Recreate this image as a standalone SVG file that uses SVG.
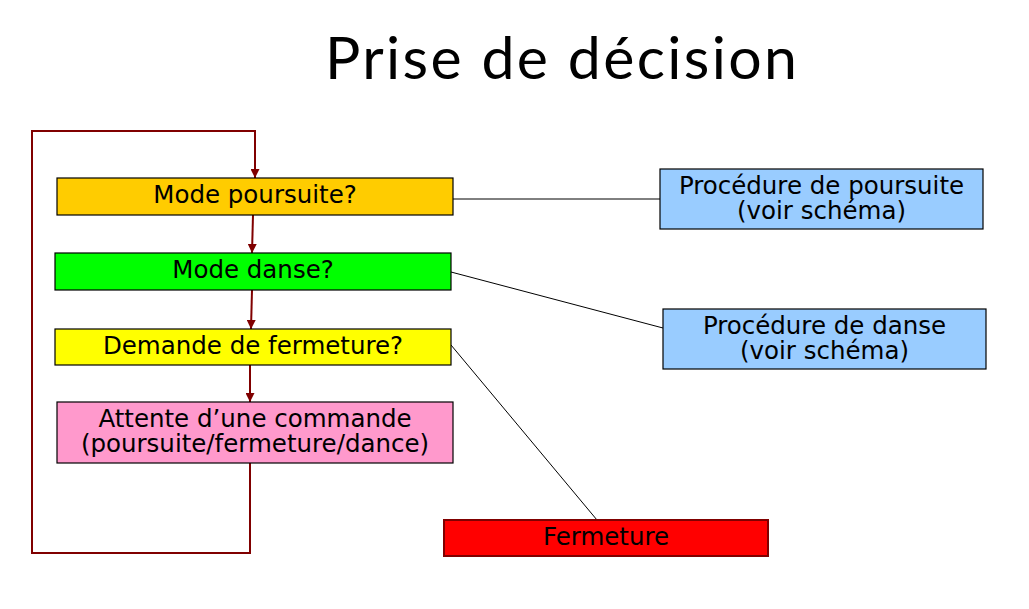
<svg xmlns="http://www.w3.org/2000/svg" width="1029" height="609" viewBox="0 0 1029 609">
<defs>
<marker id="arr" viewBox="0 0 10 10" refX="10" refY="5" markerWidth="4.5" markerHeight="4.5" orient="auto" markerUnits="strokeWidth">
<path d="M0,0 L10,5 L0,10 z" fill="#800000"/>
</marker>
</defs>
<style>
.box{stroke:#000;stroke-width:1.2}
.t{font-family:"DejaVu Sans",Verdana,sans-serif;font-size:24.5px;fill:#000;text-anchor:middle}
.flow{fill:none;stroke:#800000;stroke-width:2}
.link{fill:none;stroke:#000;stroke-width:1}
.title{font-family:Lato,"Liberation Sans",sans-serif;font-size:59px;fill:#000;text-anchor:middle}
</style>
<rect width="1029" height="609" fill="#fff"/>
<text class="title" x="561" y="79" textLength="472" lengthAdjust="spacing">Prise de décision</text>

<g id="connectors">
<path class="flow" d="M250,463 V553 H32 V131 H255 V178" marker-end="url(#arr)"/>
<path class="flow" d="M253,215 L252,253" marker-end="url(#arr)"/>
<path class="flow" d="M252,290 L251,329" marker-end="url(#arr)"/>
<path class="flow" d="M250,365 L250,402" marker-end="url(#arr)"/>
<path class="link" d="M453,199 H660"/>
<path class="link" d="M451,272 L663,328"/>
<path class="link" d="M451,345 L597,520"/>
</g>

<g id="mode-poursuite">
<rect class="box" x="57" y="178" width="396" height="37" fill="#FFCC00"/>
<text class="t" x="255" y="203">Mode poursuite?</text>
</g>
<g id="mode-danse">
<rect class="box" x="55" y="253" width="396" height="37" fill="#00FF00"/>
<text class="t" x="253" y="278">Mode danse?</text>
</g>
<g id="demande-fermeture">
<rect class="box" x="55" y="329" width="396" height="36" fill="#FFFF00"/>
<text class="t" x="253" y="354">Demande de fermeture?</text>
</g>
<g id="attente">
<rect class="box" x="57" y="402" width="396" height="61" fill="#FF99CC"/>
<text class="t" x="255" y="426.5">Attente d’une commande</text>
<text class="t" x="255" y="452">(poursuite/fermeture/dance)</text>
</g>
<g id="proc-poursuite">
<rect class="box" x="660" y="169" width="323" height="60" fill="#99CCFF"/>
<text class="t" x="821.5" y="193.5">Procédure de poursuite</text>
<text class="t" x="821.5" y="218.5">(voir schéma)</text>
</g>
<g id="proc-danse">
<rect class="box" x="663" y="309" width="323" height="60" fill="#99CCFF"/>
<text class="t" x="824.5" y="333.5">Procédure de danse</text>
<text class="t" x="824.5" y="358.5">(voir schéma)</text>
</g>
<g id="fermeture">
<rect x="444" y="520" width="324" height="36" fill="#FF0000" stroke="#800000" stroke-width="2"/>
<text class="t" x="606" y="545">Fermeture</text>
</g>
</svg>
